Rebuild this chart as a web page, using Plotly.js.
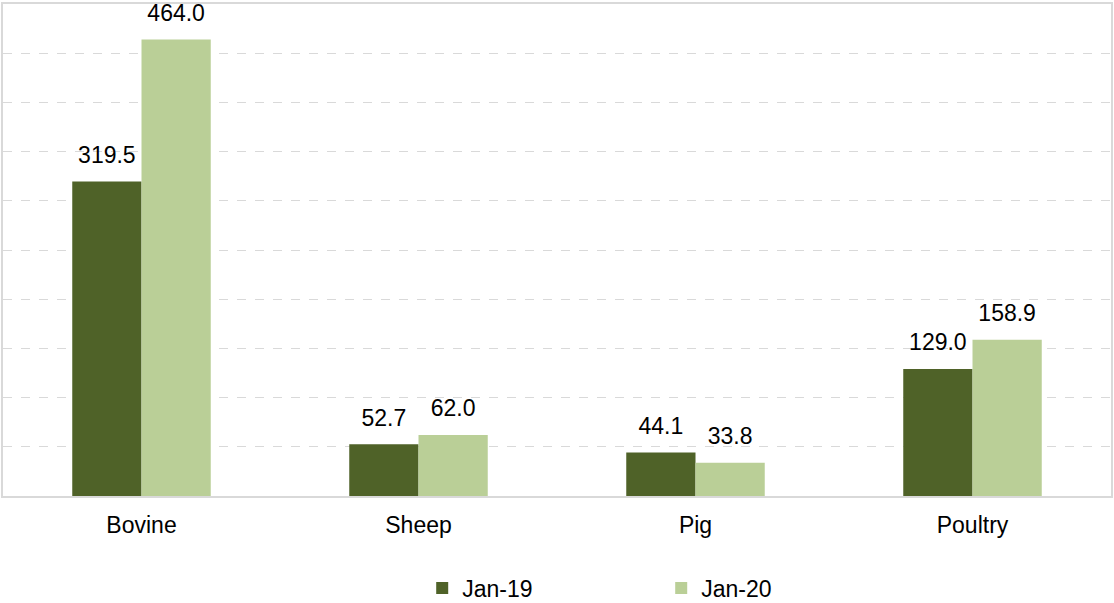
<!DOCTYPE html>
<html>
<head>
<meta charset="utf-8">
<script src="https://cdn.plot.ly/plotly-3.0.1.min.js"></script>
<style>html,body{margin:0;padding:0;background:#fff;}#chart{width:1114px;height:603px;}</style>
</head>
<body>
<div id="chart"></div>
<script>
const categories = ["Bovine", "Sheep", "Pig", "Poultry"];
const seriesNames = ["Jan-19", "Jan-20"];
const jan19 = [319.5, 52.7, 44.1, 129.0];
const jan20 = [464.0, 62.0, 33.8, 158.9];
const colors = ["#4F6228", "#BACF97"];

const labelFont = {family: "Liberation Sans, Arial, sans-serif", size: 23, color: "#000"};
const values = [jan19, jan20];

const traces = [];
values.forEach((vals, i) => {
  traces.push({
    type: "bar", name: seriesNames[i], x: categories, y: vals,
    marker: {color: colors[i], line: {width: 0}},
    hoverinfo: "skip"
  });
});
values.forEach((vals, i) => {
  traces.push({
    type: "scatter", mode: "markers+text", x: categories, y: vals,
    marker: {size: 19, color: "rgba(0,0,0,0)", line: {width: 0}},
    text: vals.map(v => v.toFixed(1)), textposition: "top center",
    textfont: labelFont, showlegend: false, hoverinfo: "skip", cliponaxis: false
  });
});

const layout = {
  width: 1114, height: 603,
  margin: {l: 3, r: 3, t: 4, b: 107},
  paper_bgcolor: "#fff", plot_bgcolor: "#fff",
  barmode: "group", bargap: 0.5, bargroupgap: 0,
  scattermode: "group", scattergap: 0.5,
  font: {family: "Liberation Sans, Arial, sans-serif", size: 23, color: "#000"},
  xaxis: {
    type: "category", showgrid: false, zeroline: false,
    showline: true, linecolor: "#D9D9D9", linewidth: 2, mirror: true,
    ticks: "", ticklabelstandoff: 7, tickfont: {size: 23, color: "#000"}
  },
  yaxis: {
    range: [0, 500], dtick: 50, showticklabels: false,
    showgrid: true, gridcolor: "#D9D9D9", griddash: "dash", gridwidth: 1,
    zeroline: false, showline: true, linecolor: "#D9D9D9", linewidth: 2, mirror: true, ticks: ""
  },
  showlegend: true,
  legend: {
    orientation: "h", xref: "container", yref: "container",
    x: 0.379, xanchor: "left", y: 0.025, yanchor: "middle",
    entrywidth: 194, entrywidthmode: "pixels",
    font: {size: 23, color: "#000"}, itemwidth: 30
  }
};

Plotly.newPlot("chart", traces, layout, {displayModeBar: false, staticPlot: true});
</script>
</body>
</html>
